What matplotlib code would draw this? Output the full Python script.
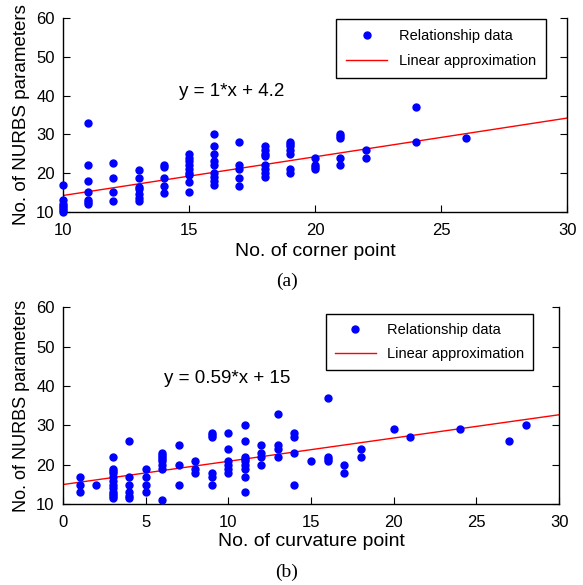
import matplotlib
matplotlib.use("Agg")
import matplotlib.pyplot as plt
import numpy as np

plt.rcParams['font.family'] = ['Liberation Sans', 'DejaVu Sans']

# (a) corner points vs NURBS parameters
corner_x = ([10]*7 + [11]*7 + [12]*4 + [13]*7 + [14]*5 + [15]*9 + [16]*9 + [17]*5 +
            [18]*8 + [19]*7 + [20]*4 + [21]*5 + [22]*2 + [24]*2 + [26])
corner_y = ([17, 13, 12, 11.5, 11, 10.5, 10] +
            [33, 22, 18, 15, 13, 12.5, 12] +
            [22.6, 18.7, 15, 12.7] +
            [20.8, 18.7, 16.5, 16, 14.5, 13.6, 12.8] +
            [22, 21.5, 18.8, 16.7, 14.8] +
            [25, 24, 23, 22, 21, 20, 19.5, 17.7, 15] +
            [30, 27, 25, 23, 22, 20, 19, 18, 17] +
            [28, 22, 21, 18.7, 16.6] +
            [27, 26, 25, 24.5, 22, 21, 20, 19] +
            [28, 27.5, 27, 26, 25, 21, 20] +
            [24, 22, 21.5, 21] +
            [30, 29.5, 29, 24, 22] +
            [26, 24] +
            [37, 28] +
            [29])
fit_a_slope, fit_a_icpt = 1.0, 4.2

# (b) curvature points vs NURBS parameters
curv_x = ([1]*3 + [2] + [3]*12 + [4]*6 + [5]*4 + [6]*8 + [7]*3 + [8]*3 + [9]*6 +
          [10]*6 + [11]*9 + [12]*4 + [13]*4 + [14]*4 + [15] + [16]*4 + [17]*2 +
          [18]*2 + [20] + [21] + [24] + [27] + [28])
curv_y = ([17, 15, 13] + [15] +
          [22, 19, 18.5, 18, 17, 16, 15, 14, 13, 12.5, 12, 11.5] +
          [26, 17, 15, 13, 12, 11.5] +
          [19, 17, 15, 13] +
          [23, 22.5, 22, 21.5, 21, 20, 19, 11] +
          [25, 20, 15] +
          [21, 19, 18] +
          [28, 27.5, 27, 18, 17, 15] +
          [28, 24, 21, 20, 19, 18] +
          [30, 26, 22, 21.5, 21, 20, 19, 17, 13] +
          [25, 23, 22, 20] +
          [33, 25, 24, 22] +
          [28, 27, 23, 15] +
          [21] +
          [37, 22, 21.5, 21] +
          [20, 18] +
          [24, 22] +
          [29] + [27] + [29] + [26] + [30])
fit_b_slope, fit_b_icpt = 0.59, 15.0

fig = plt.figure(figsize=(5.83, 5.85), dpi=100)
ax1 = fig.add_axes([0.108, 0.638, 0.865, 0.331])
ax2 = fig.add_axes([0.108, 0.138, 0.851, 0.337])

def style(ax):
    ax.spines['top'].set_visible(False)
    for s in ['left', 'right', 'bottom']:
        ax.spines[s].set_linewidth(1.0)
    ax.tick_params(direction='in', which='both', top=False, right=True,
                   labelsize=12, length=5)
    ax.tick_params(axis='x', pad=8)
    ax.tick_params(axis='y', pad=6)
    ax.set_ylim(10, 60)
    ax.set_yticks([10, 20, 30, 40, 50, 60])

xa = np.array([10, 30])
ax1.plot(corner_x, corner_y, 'o', color='#0000ff', markersize=5, clip_on=False,
         zorder=3, label='Relationship data')
ax1.plot(xa, fit_a_slope * xa + fit_a_icpt, '-', color='#ff0000', lw=1.0,
         label='Linear approximation')
ax1.set_xlim(10, 30)
ax1.set_xticks([10, 15, 20, 25, 30])
style(ax1)
ax1.set_xlabel('No. of corner point', fontsize=14, labelpad=4)
ax1.set_ylabel('No. of NURBS parameters', fontsize=13.5, labelpad=4)
ax1.text(14.6, 41, 'y = 1*x + 4.2', fontsize=13.5, va='center')
leg = ax1.legend(loc='upper right', fontsize=10.5, fancybox=False, edgecolor='black',
                 framealpha=1, borderpad=0.7, labelspacing=0.75, handlelength=2.8,
                 numpoints=1, borderaxespad=0, bbox_to_anchor=(0.958, 0.995))
leg.get_frame().set_linewidth(1.0)

xb = np.array([0, 30])
ax2.plot(curv_x, curv_y, 'o', color='#0000ff', markersize=5, clip_on=False,
         zorder=3, label='Relationship data')
ax2.plot(xb, fit_b_slope * xb + fit_b_icpt, '-', color='#ff0000', lw=1.0,
         label='Linear approximation')
ax2.set_xlim(0, 30)
ax2.set_xticks([0, 5, 10, 15, 20, 25, 30])
style(ax2)
ax2.set_xlabel('No. of curvature point', fontsize=14, labelpad=2)
ax2.set_ylabel('No. of NURBS parameters', fontsize=13, labelpad=4)
ax2.text(6.1, 42, 'y = 0.59*x + 15', fontsize=13.5, va='center')
leg2 = ax2.legend(loc='upper right', fontsize=10.5, fancybox=False, edgecolor='black',
                  framealpha=1, borderpad=0.6, labelspacing=0.7, handlelength=2.8,
                  numpoints=1, borderaxespad=0, bbox_to_anchor=(0.948, 0.964))
leg2.get_frame().set_linewidth(1.0)

fig.text(287 / 583, 1 - 281 / 585, '(a)', fontsize=14, family='Liberation Serif',
         ha='center', va='center')
fig.text(287 / 583, 1 - 572 / 585, '(b)', fontsize=14, family='Liberation Serif',
         ha='center', va='center')

fig.savefig('out.png', dpi=100)
